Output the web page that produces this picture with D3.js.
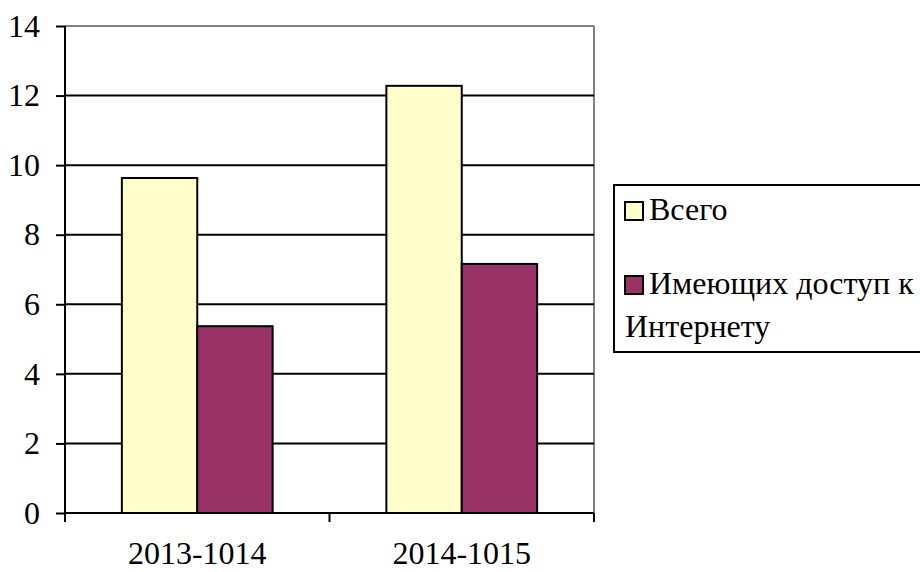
<!DOCTYPE html>
<html>
<head>
<meta charset="utf-8">
<script src="https://cdn.jsdelivr.net/npm/d3@7"></script>
<style>
  body { margin: 0; background: #fff; }
  svg, svg text { font-family: "Liberation Serif" !important; }
</style>
</head>
<body>
<div id="chart"></div>
<script>
var categories = ["2013-1014", "2014-1015"];
var seriesNames = ["Всего", "Имеющих доступ к Интернету"];
var seriesColors = ["#FFFFCC", "#993366"];
var totalValues = [9.63, 12.28];
var internetValues = [5.37, 7.16];
var yTicks = [0, 2, 4, 6, 8, 10, 12, 14];

var FONT = "Liberation Serif";
var width = 920, height = 572;
var margin = { left: 65, top: 26, right: 326, bottom: 59 };
var plotW = width - margin.left - margin.right;
var plotH = height - margin.top - margin.bottom;

var svg = d3.select("#chart").append("svg")
    .attr("width", width)
    .attr("height", height)
    .attr("font-family", FONT);

var g = svg.append("g").attr("transform", "translate(" + margin.left + "," + margin.top + ")");

var x0 = d3.scaleBand().domain(categories).range([0, plotW]).paddingInner(0.43).paddingOuter(0.215);
var x1 = d3.scaleBand().domain([0, 1]).range([0, x0.bandwidth()]);
var y = d3.scaleLinear().domain([0, 14]).range([plotH, 0]);

// plot border (grey top + right)
g.append("line").attr("x1", 0).attr("x2", plotW).attr("y1", 0).attr("y2", 0)
    .attr("stroke", "#808080").attr("stroke-width", 2);
g.append("line").attr("x1", plotW).attr("x2", plotW).attr("y1", 0).attr("y2", plotH)
    .attr("stroke", "#808080").attr("stroke-width", 2);

// gridlines
g.selectAll(".grid").data(yTicks.filter(function (d) { return d > 0 && d < 14; }))
    .enter().append("line")
    .attr("x1", 0).attr("x2", plotW)
    .attr("y1", function (d) { return y(d); }).attr("y2", function (d) { return y(d); })
    .attr("stroke", "#000").attr("stroke-width", 2);

// bars
var rows = categories.map(function (c, i) { return { cat: c, vals: [totalValues[i], internetValues[i]] }; });
var grp = g.selectAll(".grp").data(rows).enter().append("g")
    .attr("transform", function (d) { return "translate(" + x0(d.cat) + ",0)"; });
grp.selectAll("rect").data(function (d) { return d.vals.map(function (v, k) { return { v: v, k: k }; }); })
    .enter().append("rect")
    .attr("x", function (d) { return x1(d.k); })
    .attr("width", x1.bandwidth())
    .attr("y", function (d) { return y(d.v); })
    .attr("height", function (d) { return plotH - y(d.v); })
    .attr("fill", function (d) { return seriesColors[d.k]; })
    .attr("stroke", "#000").attr("stroke-width", 2);

// y axis
var yAxis = g.append("g").call(d3.axisLeft(y).tickValues(yTicks).tickSize(9).tickPadding(16));
yAxis.attr("font-family", FONT).attr("font-size", 32);
yAxis.select(".domain").attr("stroke", "#000").attr("stroke-width", 2).attr("d", "M0,0V" + plotH);
yAxis.selectAll(".tick line").attr("stroke", "#000").attr("stroke-width", 2);
yAxis.selectAll("text").attr("fill", "#000");

// x axis: ticks at category boundaries
var xAxisG = g.append("g").attr("transform", "translate(0," + plotH + ")");
xAxisG.append("line").attr("x1", 0).attr("x2", plotW).attr("stroke", "#000").attr("stroke-width", 2);
var bounds = [0].concat(categories.map(function (c) { return x0(c) + x0.bandwidth() + x0.step() * x0.paddingInner() / 2; }));
bounds[bounds.length - 1] = plotW;
xAxisG.selectAll(".xt").data(bounds).enter().append("line")
    .attr("x1", function (d) { return d; }).attr("x2", function (d) { return d; })
    .attr("y1", 0).attr("y2", 9)
    .attr("stroke", "#000").attr("stroke-width", 2);
xAxisG.selectAll(".xl").data(categories).enter().append("text")
    .attr("x", function (d) { return x0(d) + x0.bandwidth() / 2; })
    .attr("y", 51)
    .attr("text-anchor", "middle")
    .attr("font-size", 32)
    .text(function (d) { return d; });

// legend
var lg = svg.append("g").attr("transform", "translate(614,185)");
lg.append("rect").attr("x", 0).attr("y", 0).attr("width", 320).attr("height", 167)
    .attr("fill", "#fff").attr("stroke", "#000").attr("stroke-width", 2);
var legendRows = [
  { lines: ["Всего"], y: 17 },
  { lines: ["Имеющих доступ к", "Интернету"], y: 91 }
];
legendRows.forEach(function (r, i) {
  lg.append("rect").attr("x", 11).attr("y", r.y).attr("width", 18).attr("height", 18)
      .attr("fill", seriesColors[i]).attr("stroke", "#000").attr("stroke-width", 2);
  r.lines.forEach(function (t, j) {
    lg.append("text").attr("x", j === 0 ? 35 : 11).attr("y", r.y + 18 + j * 43)
        .attr("font-size", 32).text(t);
  });
});
</script>
</body>
</html>
